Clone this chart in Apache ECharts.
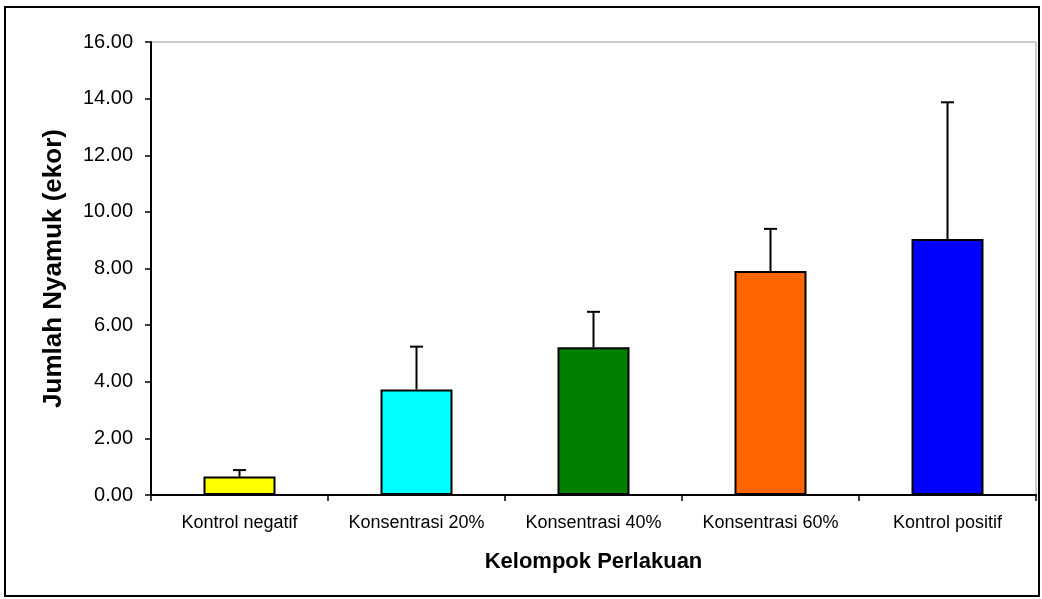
<!DOCTYPE html>
<html>
<head>
<meta charset="utf-8">
<script src="https://cdn.jsdelivr.net/npm/echarts@6/dist/echarts.min.js"></script>
<style>
  html, body { margin: 0; padding: 0; background: #fff; }
  #chart { width: 1042px; height: 599px; }
</style>
</head>
<body>
<div id="chart"></div>
<script>
const categories = ['Kontrol negatif', 'Konsentrasi 20%', 'Konsentrasi 40%', 'Konsentrasi 60%', 'Kontrol positif'];
const means = [0.65, 3.73, 5.22, 7.91, 9.04];
const errorTops = [0.88, 5.24, 6.47, 9.40, 13.87];
const barColors = ['#ffff00', '#00ffff', '#008000', '#ff6600', '#0000ff'];
const yTicks = [0, 2, 4, 6, 8, 10, 12, 14, 16];

const chart = echarts.init(document.getElementById('chart'));

const option = {
  backgroundColor: '#fff',
  animation: false,
  textStyle: { fontFamily: 'Liberation Sans, Arial, sans-serif' },
  graphic: [{
    type: 'rect',
    shape: { x: 5, y: 7, width: 1034, height: 589 },
    style: { fill: 'none', stroke: '#000', lineWidth: 2 },
    silent: true
  }, {
    type: 'polyline',
    shape: { points: [[151, 42], [1036, 42], [1036, 495]] },
    style: { stroke: '#999', lineWidth: 1, fill: 'none' },
    silent: true
  }],
  grid: { left: 151, right: 6, top: 42, bottom: 104, containLabel: false },
  xAxis: {
    type: 'category',
    data: categories,
    name: 'Kelompok Perlakuan',
    nameLocation: 'middle',
    nameGap: 56,
    nameTextStyle: { fontSize: 22, fontWeight: 'bold', color: '#000' },
    axisLine: { lineStyle: { color: '#000', width: 2 } },
    axisTick: { show: true, length: 6, lineStyle: { color: '#000', width: 1.5 } },
    axisLabel: { color: '#000', fontSize: 18, margin: 19 }
  },
  yAxis: {
    type: 'value',
    min: yTicks[0],
    max: yTicks[yTicks.length - 1],
    interval: 2,
    name: 'Jumlah Nyamuk (ekor)',
    nameLocation: 'middle',
    nameGap: 84,
    nameRotate: 90,
    nameTextStyle: { fontSize: 26, fontWeight: 'bold', color: '#000' },
    axisLine: { show: true, lineStyle: { color: '#000', width: 2 } },
    axisTick: { show: true, length: 6, lineStyle: { color: '#000', width: 1.5 } },
    splitLine: { show: false },
    axisLabel: {
      color: '#000',
      fontSize: 20,
      margin: 18,
      formatter: v => v.toFixed(2)
    }
  },
  series: [{
    type: 'bar',
    data: means.map((v, i) => ({ value: v, itemStyle: { color: barColors[i] } })),
    barWidth: 72,
    itemStyle: { borderColor: '#000', borderWidth: 2 },
    z: 2
  }, {
    type: 'custom',
    data: means.map((v, i) => [i, v, errorTops[i]]),
    z: 3,
    renderItem: function (params, api) {
      const base = api.coord([api.value(0), api.value(1)]);
      const top = api.coord([api.value(0), api.value(2)]);
      const half = 6.5;
      return {
        type: 'group',
        children: [{
          type: 'line',
          shape: { x1: base[0], y1: base[1], x2: top[0], y2: top[1] },
          style: { stroke: '#000', lineWidth: 2 }
        }, {
          type: 'line',
          shape: { x1: top[0] - half, y1: top[1], x2: top[0] + half, y2: top[1] },
          style: { stroke: '#000', lineWidth: 2 }
        }]
      };
    }
  }]
};

chart.setOption(option);
</script>
</body>
</html>
